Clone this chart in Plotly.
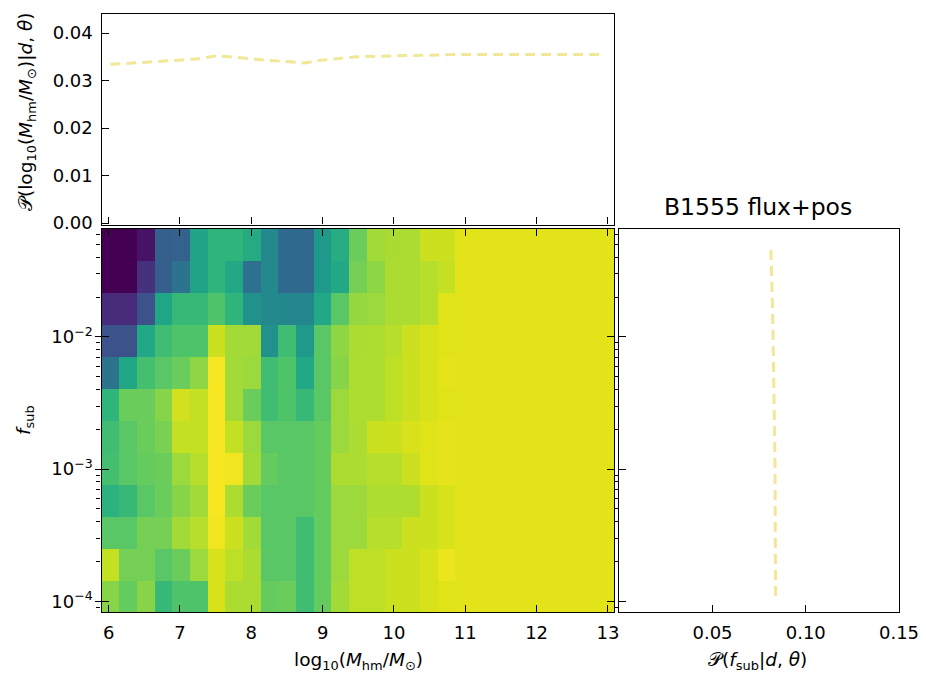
import numpy as np
import plotly.graph_objects as go

# ---------------- data ----------------
# log10(M_hm / M_sun) bin edges (29 columns) and log10(f_sub) bin edges (12 rows)
mhm_edges = np.linspace(5.9, 13.085, 30)
mhm_centers = 0.5 * (mhm_edges[:-1] + mhm_edges[1:])
lfsub_edges = np.linspace(-4.08, -1.18, 13)
lfsub_centers = 0.5 * (lfsub_edges[:-1] + lfsub_edges[1:])

# normalised 2D posterior density, rows listed from top (high f_sub) to bottom (low f_sub)
# first 20 columns read individually; columns 20-28 are flat
density_rows_top_to_bottom = [
    [0.00, 0.00, 0.05, 0.30, 0.31, 0.58, 0.65, 0.65, 0.61, 0.47, 0.34, 0.34, 0.54, 0.62, 0.77, 0.86, 0.87, 0.875, 0.92, 0.92],
    [0.00, 0.00, 0.14, 0.30, 0.38, 0.58, 0.65, 0.60, 0.37, 0.47, 0.34, 0.34, 0.54, 0.60, 0.79, 0.83, 0.875, 0.875, 0.89, 0.91],
    [0.12, 0.12, 0.25, 0.59, 0.67, 0.67, 0.72, 0.65, 0.50, 0.47, 0.46, 0.46, 0.60, 0.74, 0.84, 0.85, 0.875, 0.875, 0.89, 0.95],
    [0.25, 0.25, 0.60, 0.69, 0.72, 0.72, 0.92, 0.86, 0.86, 0.50, 0.69, 0.54, 0.74, 0.83, 0.875, 0.88, 0.89, 0.92, 0.94, 0.95],
    [0.38, 0.59, 0.70, 0.74, 0.77, 0.83, 0.99, 0.86, 0.85, 0.69, 0.72, 0.60, 0.74, 0.82, 0.88, 0.88, 0.90, 0.92, 0.94, 0.96],
    [0.65, 0.77, 0.77, 0.82, 0.93, 0.91, 0.99, 0.86, 0.77, 0.69, 0.72, 0.67, 0.74, 0.85, 0.88, 0.88, 0.90, 0.92, 0.94, 0.95],
    [0.69, 0.74, 0.77, 0.80, 0.91, 0.91, 0.99, 0.91, 0.85, 0.74, 0.74, 0.74, 0.76, 0.85, 0.875, 0.92, 0.92, 0.94, 0.95, 0.96],
    [0.70, 0.74, 0.76, 0.77, 0.85, 0.89, 0.99, 0.98, 0.86, 0.76, 0.74, 0.74, 0.76, 0.875, 0.875, 0.89, 0.89, 0.92, 0.95, 0.96],
    [0.64, 0.67, 0.74, 0.77, 0.82, 0.86, 0.99, 0.875, 0.77, 0.74, 0.74, 0.74, 0.76, 0.85, 0.85, 0.88, 0.88, 0.88, 0.92, 0.94],
    [0.74, 0.74, 0.79, 0.79, 0.86, 0.89, 0.98, 0.92, 0.86, 0.74, 0.74, 0.69, 0.76, 0.85, 0.85, 0.89, 0.89, 0.92, 0.92, 0.94],
    [0.91, 0.79, 0.79, 0.74, 0.77, 0.85, 0.94, 0.90, 0.875, 0.74, 0.74, 0.69, 0.76, 0.85, 0.90, 0.90, 0.92, 0.92, 0.94, 0.97],
    [0.82, 0.76, 0.82, 0.67, 0.72, 0.72, 0.94, 0.875, 0.875, 0.76, 0.77, 0.69, 0.76, 0.86, 0.90, 0.90, 0.92, 0.92, 0.94, 0.95],
]
flat_tail_value = 0.955
n_flat_cols = 9

# marginal posteriors
p_mhm = [0.0334, 0.0336, 0.0338, 0.0340, 0.0343, 0.0346, 0.0352, 0.0349, 0.0345, 0.0342,
         0.0340, 0.0337, 0.0343, 0.0347, 0.0350, 0.0351, 0.0352, 0.0353, 0.0353, 0.0354,
         0.0355, 0.0355, 0.0355, 0.0355, 0.0355, 0.0355, 0.0355, 0.0355, 0.0355]
p_fsub_top_to_bottom = [0.0812, 0.0817, 0.0822, 0.0826, 0.0829, 0.0831,
                        0.0833, 0.0835, 0.0836, 0.0837, 0.0838, 0.0838]

mhm_ticks = [6, 7, 8, 9, 10, 11, 12, 13]
fsub_major = [-4, -3, -2]
fsub_major_text = ["10<sup>\u22124</sup>", "10<sup>\u22123</sup>", "10<sup>\u22122</sup>"]
p_mhm_ticks = [0.0, 0.01, 0.02, 0.03, 0.04]
p_mhm_ticktext = ["0.00", "0.01", "0.02", "0.03", "0.04"]
p_fsub_ticks = [0.05, 0.10, 0.15]
p_fsub_ticktext = ["0.05", "0.10", "0.15"]

# matplotlib viridis samples
viridis_hex = ["#440154", "#471365", "#482475", "#463480", "#414487", "#3b528b", "#355f8d",
               "#2f6c8e", "#2a788e", "#25848e", "#21918c", "#1e9c89", "#22a884", "#2fb47c",
               "#44bf70", "#5ec962", "#7ad151", "#9bd93c", "#bddf26", "#dfe318", "#fde725"]
viridis_scale = [[i / (len(viridis_hex) - 1), c] for i, c in enumerate(viridis_hex)]

# ---------------- figure ----------------
z = np.array([row + [flat_tail_value] * n_flat_cols for row in density_rows_top_to_bottom])[::-1]
y_rows = lfsub_centers  # ascending, matches reversed z
p_fsub = p_fsub_top_to_bottom[::-1]

minor_vals = [np.log10(k * 10.0 ** e) for e in range(-5, -1) for k in range(2, 10)]
minor_vals = [v for v in minor_vals if -4.08 < v < -1.18]

W, H = 926, 677
def px(xp):
    return xp / W
def py(yp):
    return 1 - yp / H

FONT = "DejaVu Sans"
TICKF = dict(family=FONT, size=18, color="black")
LINE_COLOR = "#f0e68c"

fig = go.Figure()

fig.add_trace(go.Heatmap(
    x=mhm_centers, y=y_rows, z=z, colorscale=viridis_scale, zmin=0, zmax=1,
    showscale=False, zsmooth=False, xaxis="x", yaxis="y", hoverinfo="skip"))

fig.add_trace(go.Scatter(
    x=mhm_centers, y=p_mhm, mode="lines", xaxis="x2", yaxis="y2",
    line=dict(color=LINE_COLOR, width=3, dash="10px,6px"), opacity=0.9, showlegend=False))

fig.add_trace(go.Scatter(
    x=p_fsub, y=y_rows, mode="lines", xaxis="x3", yaxis="y3",
    line=dict(color=LINE_COLOR, width=3, dash="10px,6px"), opacity=0.9, showlegend=False))

# empty trace to host the overlay axis that draws the outer half of the major ticks
fig.add_trace(go.Scatter(x=[None], y=[None], xaxis="x", yaxis="y4", showlegend=False, hoverinfo="skip"))

main_x_dom = [px(101.5), px(614)]
main_y_dom = [py(612), py(228.5)]
top_y_dom = [py(224.5), py(14)]
right_x_dom = [px(619.3), px(899)]

axis_common = dict(showline=True, linecolor="black", linewidth=1.3, showgrid=False,
                    zeroline=False, tickcolor="black", tickwidth=1.3, tickfont=TICKF,
                    automargin=False)

fig.update_layout(
    width=W, height=H, margin=dict(l=0, r=0, t=0, b=0),
    paper_bgcolor="white", plot_bgcolor="white", showlegend=False,
    xaxis=dict(domain=main_x_dom, anchor="y", range=[5.9, 13.085],
               tickmode="array", tickvals=mhm_ticks, ticks="inside", ticklen=7,
               mirror="ticks", ticklabelstandoff=4, **axis_common),
    yaxis=dict(domain=main_y_dom, anchor="x", range=[-4.08, -1.18],
               tickmode="array", tickvals=fsub_major, ticktext=fsub_major_text,
               ticks="inside", ticklen=7, mirror="ticks", ticklabelstandoff=4,
               minor=dict(tickmode="array", tickvals=minor_vals, ticks="outside",
                          ticklen=4, tickcolor="black", tickwidth=1),
               **axis_common),
    yaxis4=dict(overlaying="y", anchor="x", side="left", range=[-4.08, -1.18],
                tickmode="array", tickvals=fsub_major, ticks="outside", ticklen=6,
                tickcolor="black", tickwidth=1.3, showticklabels=False,
                showline=False, showgrid=False, zeroline=False),
    xaxis2=dict(domain=main_x_dom, anchor="y2", range=[5.9, 13.085],
                tickmode="array", tickvals=mhm_ticks, ticks="inside", ticklen=7,
                showticklabels=False, mirror=True, **axis_common),
    yaxis2=dict(domain=top_y_dom, anchor="x2", range=[-0.0003, 0.044],
                tickmode="array", tickvals=p_mhm_ticks, ticktext=p_mhm_ticktext,
                ticks="inside", ticklen=7, mirror=True, ticklabelstandoff=4, **axis_common),
    xaxis3=dict(domain=right_x_dom, anchor="y3", range=[0, 0.15],
                tickmode="array", tickvals=p_fsub_ticks, ticktext=p_fsub_ticktext,
                ticks="inside", ticklen=7, mirror=True, ticklabelstandoff=4, **axis_common),
    yaxis3=dict(domain=main_y_dom, anchor="x3", range=[-4.08, -1.18],
                tickmode="array", tickvals=fsub_major, ticks="inside", ticklen=7,
                showticklabels=False, mirror=True,
                minor=dict(tickmode="array", tickvals=minor_vals, ticks="outside",
                           ticklen=4, tickcolor="black", tickwidth=1),
                **axis_common),
)

ann_font = dict(family=FONT, size=18.5, color="black")
P = "\U0001D4AB"
fig.add_annotation(text="log<sub>10</sub>(<i>M</i><sub>hm</sub>/<i>M</i><sub>\u2299</sub>)",
                   x=px(358), y=py(661), xref="paper", yref="paper", showarrow=False,
                   xanchor="center", yanchor="middle", font=ann_font)
fig.add_annotation(text=P + "(<i>f</i><sub>sub</sub>|<i>d</i>, <i>\u03b8</i>)",
                   x=px(757), y=py(661), xref="paper", yref="paper", showarrow=False,
                   xanchor="center", yanchor="middle", font=ann_font)
fig.add_annotation(text="<i>f</i><sub>sub</sub>", textangle=-90,
                   x=px(25), y=py(420), xref="paper", yref="paper", showarrow=False,
                   xanchor="center", yanchor="middle", font=ann_font)
fig.add_annotation(text=P + "(log<sub>10</sub>(<i>M</i><sub>hm</sub>/<i>M</i><sub>\u2299</sub>)|<i>d</i>, <i>\u03b8</i>)",
                   textangle=-90,
                   x=px(27), y=py(112), xref="paper", yref="paper", showarrow=False,
                   xanchor="center", yanchor="middle", font=ann_font)
fig.add_annotation(text="B1555 flux+pos",
                   x=px(758), y=py(207), xref="paper", yref="paper", showarrow=False,
                   xanchor="center", yanchor="middle",
                   font=dict(family=FONT, size=23.5, color="black"))

fig.write_html("out.html")
